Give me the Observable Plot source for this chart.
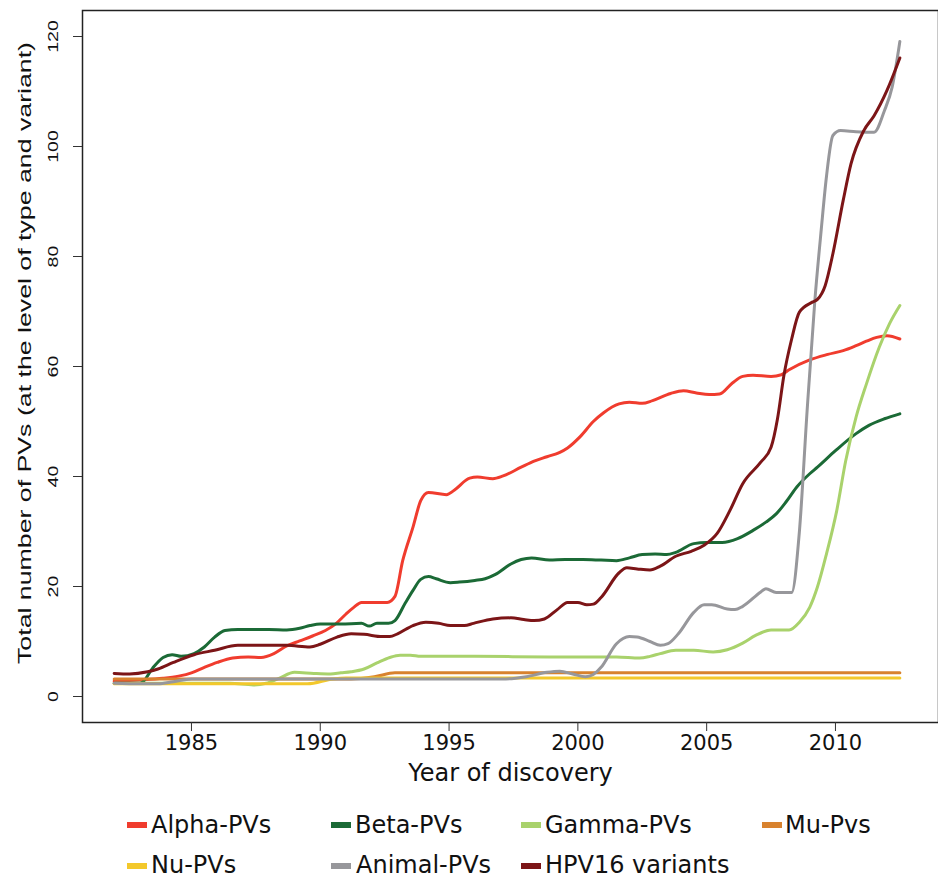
<!DOCTYPE html>
<html><head><meta charset="utf-8">
<script src="https://cdn.jsdelivr.net/npm/d3@7"></script>
<script src="https://cdn.jsdelivr.net/npm/@observablehq/plot@0.6"></script>
<style>
html,body{margin:0;padding:0;background:#fff;}
#wrap{position:relative;width:938px;height:878px;overflow:hidden;background:#fff;}
#chart svg{display:block;}
.sw{position:absolute;width:20px;height:6px;}
.lt{position:absolute;font-family:"DejaVu Sans";font-size:24px;line-height:24px;color:#111;white-space:nowrap;}
</style></head><body><div id="wrap"><div id="chart"></div><div id="legend"></div></div>
<script>
// ---- data ----
const xTicks = [1985, 1990, 1995, 2000, 2005, 2010];
const yTicks = [0, 20, 40, 60, 80, 100, 120];
const seriesNames = ["Alpha-PVs", "Beta-PVs", "Gamma-PVs", "Mu-Pvs", "Nu-PVs", "Animal-PVs", "HPV16 variants"];
const seriesColors = ["#f03c2e", "#1b6a36", "#a9d26c", "#d8822e", "#f3c82b", "#97979b", "#7c1517"];

const alpha = [[1982,2.8],[1983,3.0],[1983.9,3.3],[1984.5,3.7],[1985,4.3],[1985.5,5.3],[1986,6.2],[1986.6,7.0],[1987.2,7.2],[1987.7,7.1],[1988.2,7.8],[1988.7,9.2],[1989.2,10.1],[1989.7,11.0],[1990.2,12.0],[1990.6,13.2],[1991,15.0],[1991.3,16.2],[1991.6,17.1],[1992.6,17.1],[1992.9,18.2],[1993.2,24.7],[1993.6,30.8],[1993.9,35.6],[1994.2,37.1],[1994.9,36.7],[1995.2,37.5],[1995.8,39.7],[1996.1,39.9],[1996.7,39.6],[1997.1,40.1],[1997.8,41.7],[1998.3,42.8],[1998.8,43.6],[1999.3,44.4],[1999.6,45.2],[2000.1,47.3],[2000.6,50.0],[2001.0,51.6],[2001.6,53.2],[2002.0,53.5],[2002.5,53.3],[2002.9,53.8],[2003.6,55.1],[2004.1,55.6],[2004.6,55.2],[2005.1,54.9],[2005.5,55.0],[2006.0,57.0],[2006.4,58.2],[2006.8,58.4],[2007.5,58.2],[2007.9,58.5],[2008.2,59.4],[2009.0,61.2],[2009.7,62.2],[2010.3,62.9],[2010.8,63.8],[2011.2,64.6],[2011.6,65.3],[2012.0,65.6],[2012.5,65.0]];
const beta = [[1982,2.4],[1983.0,2.4],[1983.1,2.6],[1983.5,5.2],[1983.9,7.1],[1984.25,7.6],[1984.6,7.3],[1985.1,7.8],[1985.5,9.0],[1985.9,10.8],[1986.3,12.0],[1986.8,12.2],[1987.4,12.2],[1988.0,12.2],[1988.7,12.1],[1989.2,12.4],[1989.6,12.9],[1990.0,13.2],[1990.8,13.2],[1991.6,13.3],[1991.9,12.8],[1992.2,13.3],[1992.65,13.3],[1992.9,13.8],[1993.3,17.0],[1993.6,19.3],[1993.9,21.3],[1994.2,21.8],[1994.5,21.4],[1995.05,20.7],[1995.4,20.8],[1996.0,21.1],[1996.4,21.4],[1996.8,22.2],[1997.4,24.1],[1997.8,24.9],[1998.2,25.2],[1998.9,24.8],[1999.5,24.9],[2000.2,24.9],[2000.9,24.8],[2001.5,24.7],[2002.0,25.2],[2002.5,25.8],[2003.0,25.9],[2003.45,25.8],[2003.8,26.2],[2004.5,27.8],[2005.0,28.0],[2005.6,28.0],[2006.2,28.7],[2006.8,30.2],[2007.3,31.7],[2007.7,33.2],[2008.1,35.5],[2008.5,38.1],[2009.0,40.5],[2009.3,41.7],[2010.0,44.7],[2010.8,47.8],[2011.3,49.3],[2011.9,50.5],[2012.5,51.4]];
const gamma = [[1982,2.4],[1986.5,2.4],[1987.4,2.1],[1987.9,2.4],[1988.4,3.3],[1989.0,4.4],[1989.75,4.2],[1990.4,4.1],[1990.8,4.3],[1991.2,4.5],[1991.7,5.0],[1992.2,6.1],[1992.7,7.1],[1993.1,7.5],[1993.5,7.5],[1993.9,7.3],[1996.0,7.3],[1998.9,7.2],[2001.5,7.2],[2002.4,7.0],[2002.8,7.3],[2003.2,7.8],[2003.8,8.4],[2004.5,8.4],[2005.25,8.1],[2005.8,8.5],[2006.4,9.7],[2006.9,11.1],[2007.5,12.1],[2008.2,12.1],[2008.6,13.5],[2009.0,16.2],[2009.3,19.9],[2009.65,25.9],[2010.05,33.8],[2010.4,42.9],[2010.8,50.8],[2011.2,56.8],[2011.7,63.5],[2012.1,67.8],[2012.5,71.1]];
const mu = [[1982,3.2],[1991.2,3.2],[1992.1,3.6],[1992.9,4.3],[2012.5,4.3]];
const nu = [[1982,2.3],[1989.5,2.3],[1990.5,3.2],[1991,3.35],[2012.5,3.35]];
const animal = [[1982,2.4],[1983,2.3],[1983.7,2.3],[1984.3,2.7],[1985.0,3.2],[1997.2,3.2],[1998.0,3.6],[1998.8,4.4],[1999.3,4.6],[1999.8,4.1],[2000.3,3.6],[2000.6,4.0],[2000.9,5.3],[2001.5,9.6],[2002.0,10.9],[2002.3,10.8],[2002.8,10.0],[2003.2,9.3],[2003.5,9.6],[2003.9,11.4],[2004.5,15.3],[2004.9,16.7],[2005.2,16.7],[2005.8,15.9],[2006.1,15.8],[2006.4,16.4],[2007.1,19.0],[2007.3,19.6],[2007.7,18.9],[2008.3,18.9],[2008.6,30],[2008.9,52],[2009.2,72],[2009.45,85],[2009.65,94.5],[2009.9,102],[2010.2,102.9],[2010.8,102.7],[2011.5,102.6],[2011.9,106.5],[2012.2,110.8],[2012.5,119.1]];
const hpv16 = [[1982,4.2],[1982.6,4.1],[1983.3,4.5],[1983.7,5.0],[1984.3,6.2],[1985.1,7.6],[1985.9,8.4],[1986.8,9.3],[1987.7,9.3],[1988.7,9.3],[1989.6,9.0],[1990.0,9.5],[1990.65,10.8],[1991.2,11.4],[1991.7,11.3],[1992.4,10.9],[1992.7,10.9],[1993.0,11.4],[1993.6,12.9],[1994.1,13.5],[1994.6,13.3],[1995.05,12.9],[1995.6,12.9],[1995.95,13.3],[1996.7,14.1],[1997.4,14.3],[1997.9,14.0],[1998.3,13.8],[1998.7,14.1],[1999.2,15.8],[1999.6,17.1],[2000.0,17.1],[2000.35,16.7],[2000.6,16.8],[2000.9,18.0],[2001.6,22.5],[2001.9,23.4],[2002.3,23.2],[2002.8,23.0],[2003.2,23.7],[2003.8,25.5],[2004.4,26.4],[2004.9,27.5],[2005.4,29.6],[2005.9,33.8],[2006.4,38.7],[2007.1,42.6],[2007.5,45.3],[2007.75,50.5],[2008.0,58.4],[2008.3,65.0],[2008.6,69.9],[2009.1,71.7],[2009.3,72.2],[2009.6,74.7],[2009.9,80.5],[2010.3,90.2],[2010.6,96.8],[2011.1,102.9],[2011.5,105.6],[2012.0,110.2],[2012.5,116.1]];

const seriesData = [alpha, beta, gamma, mu, nu, animal, hpv16];
const xLabel = "Year of discovery";
const yLabel = "Total number of PVs (at the level of type and variant)";

// ---- chart ----
const lineMarks = seriesData.map((pts, i) =>
  Plot.line(pts.map(([year, value]) => ({year, value})), {
    x: "year", y: "value", stroke: seriesColors[i], strokeWidth: 3, curve: "monotone-x"
  })
);

const svg = Plot.plot({
  width: 938,
  height: 800,
  marginLeft: 82,
  marginRight: 0,
  marginTop: 10,
  marginBottom: 78,
  style: {fontFamily: "DejaVu Sans", fontSize: "21px", background: "#fff", color: "#111"},
  x: {domain: [1980.77, 2014.0]},
  y: {domain: [-4.727, 124.73]},
  marks: [
    ...lineMarks,
    Plot.frame({stroke: "#222", strokeWidth: 1.5}),
    Plot.axisX({ticks: xTicks, tickSize: 9, tickPadding: 4, tickFormat: d => String(d), fontSize: 21, label: null, stroke: "#333"}),
    Plot.axisY({ticks: yTicks, tickSize: 9, tickPadding: 16, tickRotate: -90, fontFamily: "Liberation Sans", fontSize: 14, label: null, stroke: "#333"}),
    Plot.text([xLabel], {text: d => d, frameAnchor: "bottom", lineAnchor: "bottom", dy: 58, fontSize: 24, fontFamily: "DejaVu Sans", fill: "#111"}),
    Plot.text([yLabel], {text: d => d, frameAnchor: "left", rotate: -90, lineAnchor: "bottom", textAnchor: "start", fontSize: 19, fontFamily: "Liberation Sans", fill: "#111"})
  ]
});
document.getElementById("chart").appendChild(svg);

// stretch the rotated y tick labels along their length, like the reference
d3.select(svg).selectAll('g[aria-label="y-axis tick label"] text').each(function () {
  const tr = this.getAttribute("transform") || "";
  this.setAttribute("transform", tr + " scale(1.4,1)");
});
// place and stretch the y-axis title (runs from y=664 upward over 622px, baseline at x=31)
const tt = Array.from(svg.querySelectorAll("text")).find(el => el.textContent === yLabel);
if (tt) {
  const g = tt.parentNode;
  if (g && g.tagName.toLowerCase() === "g") g.removeAttribute("transform");
  tt.removeAttribute("x");
  tt.removeAttribute("y");
  tt.removeAttribute("dy");
  tt.setAttribute("transform", "translate(31,664) rotate(-90)");
  tt.setAttribute("text-anchor", "start");
  tt.setAttribute("textLength", "622");
  tt.setAttribute("lengthAdjust", "spacingAndGlyphs");
}

// ---- legend (below the svg) ----
const legendSlots = [
  {sx: 127, tx: 151, row: 0}, {sx: 331, tx: 355, row: 0}, {sx: 521, tx: 545, row: 0}, {sx: 762, tx: 785, row: 0},
  {sx: 127, tx: 151, row: 1}, {sx: 331, tx: 356, row: 1}, {sx: 521, tx: 545, row: 1}
];
const rowSwTop = [822.3, 862.7];
const rowTxtTop = [813, 853];
const legend = document.getElementById("legend");
seriesNames.forEach((name, i) => {
  const s = legendSlots[i];
  const sw = document.createElement("div");
  sw.className = "sw";
  sw.style.left = s.sx + "px";
  sw.style.top = rowSwTop[s.row] + "px";
  sw.style.background = seriesColors[i];
  legend.appendChild(sw);
  const t = document.createElement("div");
  t.className = "lt";
  t.style.left = s.tx + "px";
  t.style.top = rowTxtTop[s.row] + "px";
  t.textContent = name;
  legend.appendChild(t);
});
</script></body></html>
